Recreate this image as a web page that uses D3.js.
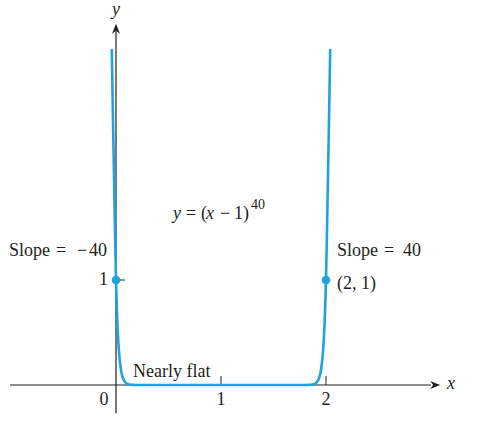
<!DOCTYPE html>
<html><head><meta charset="utf-8">
<script src="https://cdn.jsdelivr.net/npm/d3@7"></script>
<style>body{margin:0;background:#fff}svg{display:block}text{font-family:"Liberation Serif","Times New Roman",serif;fill:#231f20}</style>
</head><body>
<script>
// curve y = (x-1)^40 points
const curveX = [-0.04,-0.03,-0.02,-0.01,0,0.01,0.02,0.03,0.04,0.05,0.06,0.08,0.10,0.13,0.16,0.20,0.30,1.00,1.70,1.80,1.84,1.87,1.90,1.92,1.94,1.95,1.96,1.97,1.98,1.99,2.00,2.01,2.02,2.03,2.04];
const curveY = [3.2,2.6,2.05,1.5,1,0.67,0.45,0.30,0.20,0.13,0.084,0.036,0.015,0.004,0.001,0.0001,0,0,0,0.0001,0.001,0.004,0.015,0.036,0.084,0.13,0.20,0.30,0.45,0.67,1,1.5,2.05,2.6,3.2];
const pointsX = [0, 2];
const pointsY = [1, 1];
const xTicks = [1, 2];
const yTicks = [1];

const W = 481, H = 421;
const svg = d3.select("body").append("svg").attr("width", W).attr("height", H);
const x = d3.scaleLinear().domain([0, 2]).range([116, 326]);
const y = d3.scaleLinear().domain([0, 1]).range([385, 280]);
const blue = "#1fa3de";
const ink = "#231f20";
const fs = 18;

// axes
svg.append("line").attr("x1", x(-1.01)).attr("x2", x(3.0)).attr("y1", y(0)).attr("y2", y(0)).attr("stroke", ink).attr("stroke-width", 1.2);
svg.append("line").attr("x1", x(0)).attr("x2", x(0)).attr("y1", y(-0.27)).attr("y2", y(3.38)).attr("stroke", ink).attr("stroke-width", 1.2);
// arrowheads
const xt = x(3.087), yt = y(0);
svg.append("path").attr("d", `M${xt},${yt} L${xt-10},${yt-4} L${xt-7},${yt} L${xt-10},${yt+4} Z`).attr("fill", ink);
const ax = x(0), ay = y(3.44);
svg.append("path").attr("d", `M${ax},${ay} L${ax-4},${ay+10} L${ax},${ay+7} L${ax+4},${ay+10} Z`).attr("fill", ink);

// ticks
svg.selectAll(".xt").data(xTicks).enter().append("line").attr("x1", d => x(d)).attr("x2", d => x(d)).attr("y1", y(0)).attr("y2", y(0) - 9).attr("stroke", ink).attr("stroke-width", 1);
svg.selectAll(".yt").data(yTicks).enter().append("line").attr("x1", x(0)).attr("x2", x(0) + 9).attr("y1", d => y(d)).attr("y2", d => y(d)).attr("stroke", ink).attr("stroke-width", 1);

// tick labels
svg.selectAll(".xl").data(xTicks).enter().append("text").attr("x", d => x(d)).attr("y", 405).attr("text-anchor", "middle").attr("font-size", fs).text(d => d);
svg.append("text").attr("x", x(0) - 12).attr("y", 405).attr("text-anchor", "middle").attr("font-size", fs).text("0");
svg.selectAll(".yl").data(yTicks).enter().append("text").attr("x", x(0) - 8).attr("y", d => y(d) + 5).attr("text-anchor", "end").attr("font-size", fs).text(d => d);

// axis labels
svg.append("text").attr("x", x(0)).attr("y", 15).attr("text-anchor", "middle").attr("font-size", fs).attr("font-style", "italic").text("y");
svg.append("text").attr("x", 451).attr("y", 389).attr("text-anchor", "middle").attr("font-size", fs).attr("font-style", "italic").text("x");

// curve
const pts = curveX.map((d, i) => [d, curveY[i]]);
svg.append("path").datum(pts).attr("fill", "none").attr("stroke", blue).attr("stroke-width", 2.6)
  .attr("stroke-linejoin", "round")
  .attr("d", d3.line().x(d => x(d[0])).y(d => y(d[1])).curve(d3.curveMonotoneX));

// points
svg.selectAll(".pt").data(pointsX).enter().append("circle").attr("cx", d => x(d)).attr("cy", (d, i) => y(pointsY[i])).attr("r", 4.3).attr("fill", blue);

// annotations built from positioned pieces
function label(pieces, baseline) {
  const t = svg.append("text").attr("y", baseline).attr("font-size", fs);
  pieces.forEach(p => {
    const s = t.append("tspan").attr("x", p[1]).attr("y", baseline + (p[4] || 0)).text(p[0]);
    if (p[2]) s.attr("font-style", "italic");
    if (p[3]) s.attr("font-size", p[3]);
  });
  return t;
}
label([["y",173,1],["=",186],["(",201],["x",206,1],["\u2212",220],["1)",234],["40",251,0,14,-10]], 219);
label([["Slope",9],["=",56],["\u2212",77],["40",89]], 256);
label([["Slope",337],["=",384],["40",403]], 256);
svg.append("text").attr("x", 337).attr("y", 289).attr("font-size", fs).text("(2, 1)");
svg.append("text").attr("x", 133).attr("y", 377).attr("font-size", fs).text("Nearly flat");
</script>
</body></html>
